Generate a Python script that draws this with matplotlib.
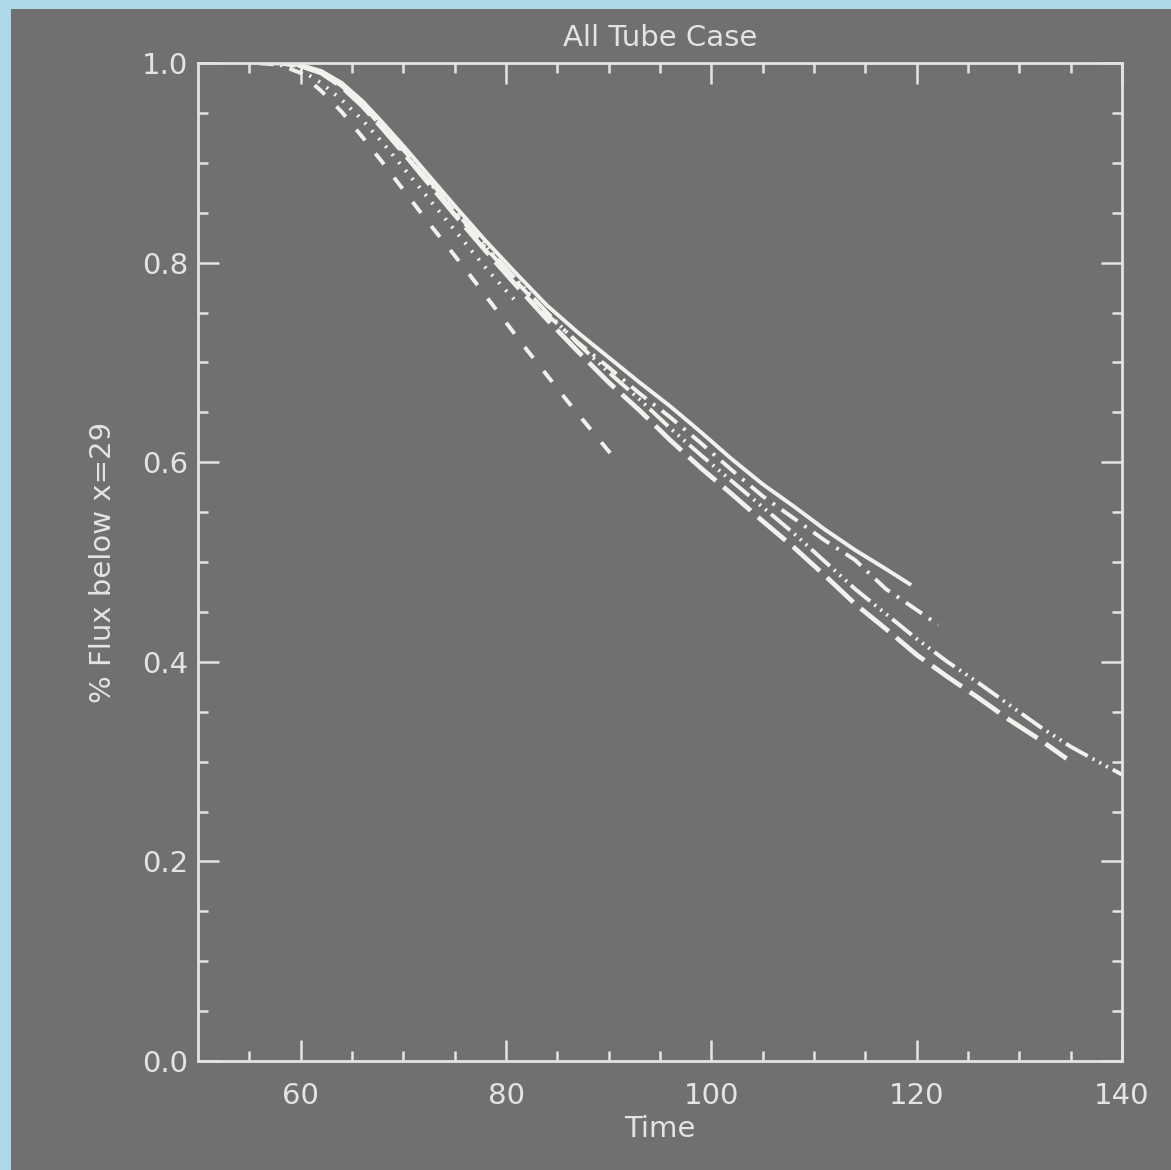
import matplotlib
matplotlib.use("Agg")
import matplotlib.pyplot as plt
from matplotlib.patches import Rectangle

plt.rcParams['lines.scale_dashes'] = False
plt.rcParams['font.family'] = ['DejaVu Sans']

# ---- data ----
t_solid = [56, 58, 60, 62, 64, 66, 68, 70, 72, 75, 78, 81, 84, 87, 90, 93, 96, 99, 102, 105, 108, 111, 114, 117, 119.3]
f_solid = [1.0, 1.0, 0.998, 0.992, 0.980, 0.962, 0.940, 0.917, 0.893, 0.857, 0.822, 0.789, 0.757, 0.730, 0.705, 0.680,
           0.656, 0.630, 0.603, 0.578, 0.556, 0.533, 0.512, 0.493, 0.478]

t_dashdot = [56, 58, 60, 62, 64, 66, 68, 70, 72, 75, 78, 81, 84, 87, 90, 93, 96, 99, 102, 105, 108, 111, 114, 117, 120, 122.1]
f_dashdot = [1.0, 1.0, 0.997, 0.990, 0.977, 0.958, 0.935, 0.911, 0.887, 0.851, 0.815, 0.781, 0.748, 0.720, 0.695, 0.669,
             0.645, 0.619, 0.592, 0.566, 0.544, 0.522, 0.502, 0.473, 0.452, 0.437]

t_dash3dot = [56, 58, 60, 62, 64, 66, 68, 70, 72, 75, 78, 81, 84, 87, 90, 93, 96, 99, 102, 105, 108, 111, 114, 117, 120,
              123, 126, 129, 132, 135, 138, 140]
f_dash3dot = [1.0, 1.0, 0.997, 0.991, 0.978, 0.959, 0.937, 0.913, 0.889, 0.852, 0.817, 0.783, 0.750, 0.719, 0.690, 0.663,
              0.634, 0.607, 0.581, 0.555, 0.529, 0.501, 0.473, 0.448, 0.423, 0.400, 0.379, 0.357, 0.335, 0.315, 0.298, 0.287]

t_longdash = [56, 58, 60, 62, 64, 66, 68, 70, 72, 75, 78, 81, 84, 87, 90, 93, 96, 99, 102, 105, 108, 111, 114, 117, 120,
              123, 126, 129, 132, 134.6]
f_longdash = [1.0, 1.0, 0.997, 0.990, 0.976, 0.957, 0.934, 0.910, 0.885, 0.848, 0.812, 0.777, 0.743, 0.711, 0.680, 0.652,
              0.622, 0.594, 0.568, 0.541, 0.515, 0.487, 0.458, 0.433, 0.407, 0.385, 0.364, 0.342, 0.322, 0.303]

t_dashed = [56, 58, 60, 62, 64, 66, 68, 70, 72, 74, 76, 78, 80, 82, 84, 86, 88, 90, 90.6]
f_dashed = [1.0, 0.998, 0.990, 0.972, 0.951, 0.926, 0.900, 0.873, 0.846, 0.820, 0.794, 0.767, 0.740, 0.713, 0.687, 0.661,
            0.636, 0.611, 0.604]

t_dotted = [56, 58, 60, 62, 64, 66, 68, 70, 72, 74, 76, 78, 80, 80.9]
f_dotted = [1.0, 0.998, 0.993, 0.980, 0.963, 0.943, 0.920, 0.895, 0.870, 0.845, 0.820, 0.795, 0.772, 0.762]

xticks = [60, 80, 100, 120, 140]
yticks = [0.0, 0.2, 0.4, 0.6, 0.8, 1.0]
title = "All Tube Case"
xlabel = "Time"
ylabel = "% Flux below x=29"

# ---- style ----
BLUE = "#add8e6"
GRAY = "#707070"
FG = "#e6e4e0"
LINE = "#f3f1ed"

fig = plt.figure(figsize=(11.71, 11.70), dpi=100, facecolor=BLUE)
bg = Rectangle((11 / 1171, 0), 1 - 11 / 1171, 1 - 9 / 1170, transform=fig.transFigure,
               facecolor=GRAY, edgecolor='none', zorder=-10)
fig.patches.append(bg)

ax = fig.add_axes([198 / 1171, 1 - 1061 / 1170, (1122 - 198) / 1171, (1061 - 63) / 1170])
ax.set_zorder(5)
ax.set_facecolor(GRAY)

lw = 2.8
ax.plot(t_solid, f_solid, color=LINE, lw=lw, linestyle='-')
ax.plot(t_dashdot, f_dashdot, color=LINE, lw=lw, linestyle=(0, (14, 6, 2, 6)))
ax.plot(t_dash3dot, f_dash3dot, color=LINE, lw=lw, linestyle=(0, (18, 4, 1.5, 4, 1.5, 4, 1.5, 4)))
ax.plot(t_longdash, f_longdash, color=LINE, lw=lw + 0.6, linestyle=(0, (26, 7)))
ax.plot(t_dashed, f_dashed, color=LINE, lw=lw, linestyle=(0, (10, 12)))
ax.plot(t_dotted, f_dotted, color=LINE, lw=lw, linestyle=(0, (1.5, 6)))

ax.set_xlim(50, 140)
ax.set_ylim(0, 1.0)
ax.set_xticks(xticks)
ax.set_xticks([x for x in range(55, 140, 5) if x not in xticks], minor=True)
ax.set_yticks(yticks)
ax.set_yticks([i * 0.05 for i in range(1, 20) if i % 4 != 0], minor=True)
ax.set_xticklabels([str(v) for v in xticks])
ax.set_yticklabels([f"{v:.1f}" for v in yticks])

for s in ax.spines.values():
    s.set_color(FG)
    s.set_linewidth(2.0)

ax.tick_params(which='both', direction='in', top=True, right=True, colors=FG, width=1.8)
ax.tick_params(which='major', length=15)
ax.tick_params(which='minor', length=7.5)
ax.tick_params(axis='x', which='major', pad=15, labelsize=21, labelcolor=FG)
ax.tick_params(axis='y', which='major', pad=7, labelsize=21, labelcolor=FG)

ax.set_title(title, color=FG, fontsize=21, pad=12)
ax.set_xlabel(xlabel, color=FG, fontsize=21, labelpad=4)
ax.set_ylabel(ylabel, color=FG, fontsize=21, labelpad=18)

fig.savefig("out.png", dpi=100, facecolor=BLUE)
